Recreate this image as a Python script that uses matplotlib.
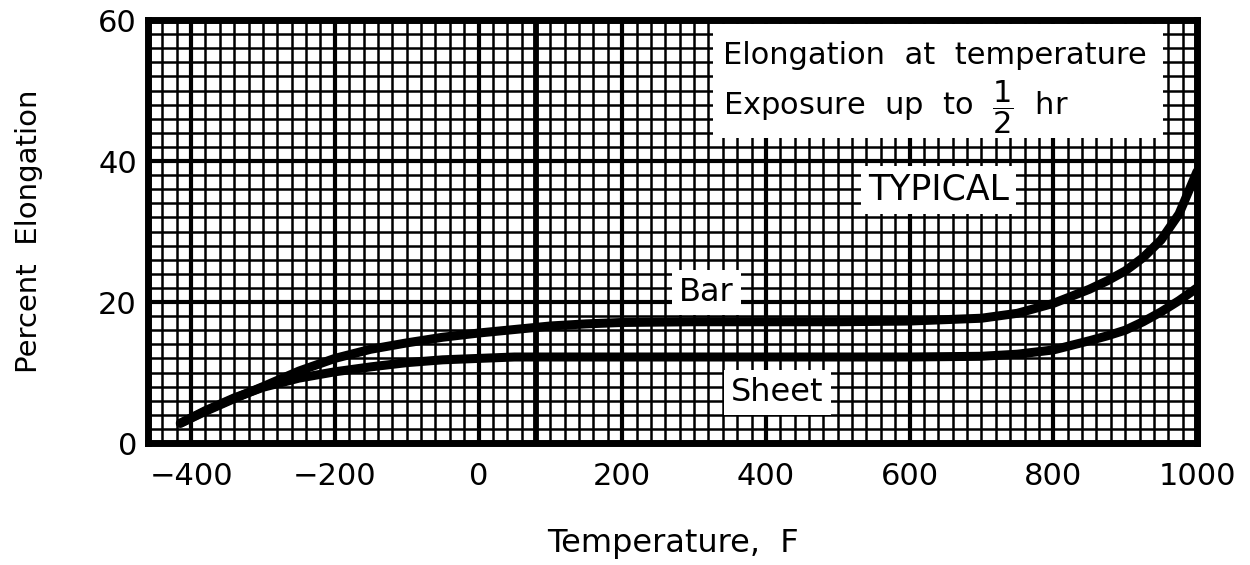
import matplotlib
matplotlib.use("Agg")
import matplotlib.pyplot as plt
from matplotlib.ticker import MultipleLocator
from matplotlib.patches import Rectangle

# values
temps = [-415, -380, -340, -300, -250, -200, -150, -100, -50, 0, 50, 100, 150,
         200, 300, 400, 500, 600, 700, 750, 800, 850, 875, 900, 925, 950, 975, 1000]
bar = [2.8, 4.5, 6.3, 8.0, 10.2, 12.0, 13.3, 14.2, 15.0, 15.6, 16.1, 16.6, 16.9,
       17.1, 17.2, 17.2, 17.2, 17.3, 17.7, 18.4, 19.8, 21.8, 23.0, 24.4, 26.3, 28.8, 32.5, 38.5]
sheet = [2.8, 4.6, 6.4, 7.9, 9.2, 10.1, 10.8, 11.4, 11.8, 12.0, 12.2, 12.2, 12.2,
         12.2, 12.2, 12.2, 12.2, 12.2, 12.3, 12.6, 13.2, 14.5, 15.2, 16.0, 17.2, 18.6, 20.2, 22.0]
xticks = [-400, -200, 0, 200, 400, 600, 800, 1000]
yticks = [0, 20, 40, 60]
room_temp = 80

plt.rcParams['font.family'] = ['DejaVu Sans']

fig = plt.figure(figsize=(12.5, 5.65), dpi=100)
ax = fig.add_axes([0.1184, 0.2159, 0.8392, 0.7487])

ax.set_xlim(-460, 1000)
ax.set_ylim(0, 60)
ax.set_xticks(xticks)
ax.set_yticks(yticks)
ax.xaxis.set_minor_locator(MultipleLocator(20))
ax.yaxis.set_minor_locator(MultipleLocator(2))
ax.grid(which='minor', color='black', lw=1.8)
ax.grid(which='major', color='black', lw=3.0)
ax.axvline(room_temp, color='black', lw=4.2)
ax.set_axisbelow(True)

for s in ax.spines.values():
    s.set_linewidth(5)
ax.tick_params(which='both', length=0)
ax.tick_params(axis='x', labelsize=22, pad=14)
ax.tick_params(axis='y', labelsize=22, pad=8)

ax.plot(temps, bar, color='black', lw=6.5, solid_capstyle='round',
        solid_joinstyle='round', zorder=5)
ax.plot(temps, sheet, color='black', lw=6.5, solid_capstyle='round',
        solid_joinstyle='round', zorder=5)

# white panel behind the note
ax.add_patch(Rectangle((326, 43.2), 627, 16.3, facecolor='white',
                       edgecolor='none', zorder=6))
ax.text(340, 55.0, "Elongation  at  temperature", fontsize=22, ha='left',
        va='center', zorder=7)
ax.text(340, 47.6, r"Exposure  up  to  $\dfrac{1}{2}$  hr", fontsize=22,
        ha='left', va='center', zorder=7)

box = dict(facecolor='white', edgecolor='none', pad=5)
ax.text(640, 35.9, "TYPICAL", fontsize=25, ha='center', va='center',
        zorder=7, bbox=box)
ax.text(317, 21.4, "Bar", fontsize=23, ha='center', va='center',
        zorder=7, bbox=box)
ax.text(416, 7.2, "Sheet", fontsize=23, ha='center', va='center',
        zorder=7, bbox=box)

ax.set_xlabel("Temperature,  F", fontsize=23, labelpad=26)
ax.set_ylabel("Percent  Elongation", fontsize=21, labelpad=40)

fig.savefig("out.png", dpi=100)
